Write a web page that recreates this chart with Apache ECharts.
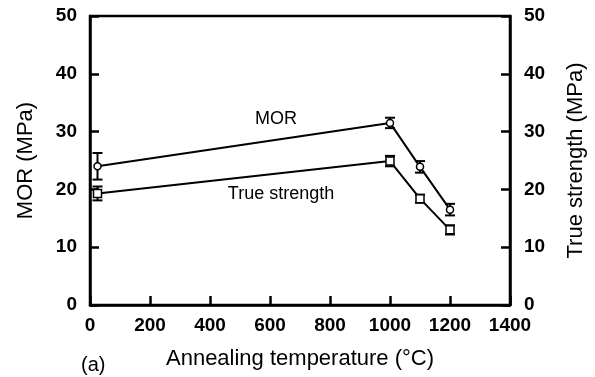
<!DOCTYPE html>
<html><head><meta charset="utf-8">
<script src="https://cdn.jsdelivr.net/npm/echarts@6/dist/echarts.min.js"></script>
<style>html,body{margin:0;padding:0;background:#fff}#c{width:595px;height:377px}</style>
</head><body><div id="c"></div>
<script>
const temps = [25, 1000, 1100, 1200];
const morValues = [24.0, 31.5, 23.9, 16.5];
const morErrors = [2.3, 0.9, 1.0, 1.0];
const trueValues = [19.3, 24.9, 18.4, 13.0];
const trueErrors = [1.2, 0.9, 0.7, 0.8];
const xTicks = [0, 200, 400, 600, 800, 1000, 1200, 1400];
const yTicks = [0, 10, 20, 30, 40, 50];

const FONT = 'Liberation Sans, Arial, sans-serif';
const chart = echarts.init(document.getElementById('c'));

function errSeries(vals, errs) {
  return {
    type: 'custom',
    data: temps.map((t, i) => [t, vals[i] - errs[i], vals[i] + errs[i]]),
    renderItem: function (params, api) {
      const lo = api.coord([api.value(0), api.value(1)]);
      const hi = api.coord([api.value(0), api.value(2)]);
      const w = 5;
      const st = {stroke: '#000', lineWidth: 2};
      return {type: 'group', children: [
        {type: 'line', shape: {x1: lo[0], y1: lo[1], x2: hi[0], y2: hi[1]}, style: st},
        {type: 'line', shape: {x1: lo[0]-w, y1: lo[1], x2: lo[0]+w, y2: lo[1]}, style: st},
        {type: 'line', shape: {x1: hi[0]-w, y1: hi[1], x2: hi[0]+w, y2: hi[1]}, style: st}
      ]};
    },
    z: 3
  };
}

const axisStyle = {lineStyle: {color: '#000', width: 2.5}};
const tickStyle = {inside: true, length: 9, lineStyle: {color: '#000', width: 2.5}};
const labelBase = {fontFamily: FONT, fontSize: 19, fontWeight: 'bold', color: '#000'};
const nameBase = {fontFamily: FONT, fontSize: 22, color: '#000'};
chart.setOption({
  animation: false,
  grid: {left: 90, right: 85, top: 16, bottom: 72, show: true, borderColor: '#000', borderWidth: 2.5},
  title: {text: '(a)', left: 76, top: 350, textStyle: {fontFamily: FONT, fontSize: 20, fontWeight: 'normal', color: '#000'}},
  xAxis: {
    type: 'value', min: 0, max: 1400, interval: 200,
    name: 'Annealing temperature (\u00B0C)', nameLocation: 'middle', nameGap: 43,
    nameTextStyle: nameBase,
    axisLine: axisStyle, axisTick: tickStyle,
    axisLabel: Object.assign({margin: 11, formatter: v => xTicks.includes(v) ? String(v) : ''}, labelBase),
    splitLine: {show: false}
  },
  yAxis: [{
    type: 'value', min: 0, max: 50, interval: 10, position: 'left',
    name: 'MOR (MPa)', nameLocation: 'middle', nameGap: 53, nameRotate: 90,
    nameTextStyle: nameBase,
    axisLine: axisStyle, axisTick: tickStyle,
    axisLabel: Object.assign({margin: 13, formatter: v => yTicks.includes(v) ? String(v) : ''}, labelBase),
    splitLine: {show: false}
  }, {
    type: 'value', min: 0, max: 50, interval: 10, position: 'right',
    name: 'True strength (MPa)', nameLocation: 'middle', nameGap: 55, nameRotate: 90,
    nameTextStyle: nameBase,
    axisLine: axisStyle, axisTick: tickStyle,
    axisLabel: Object.assign({margin: 14, formatter: v => yTicks.includes(v) ? String(v) : ''}, labelBase),
    splitLine: {show: false}
  }],
  series: [
    {type: 'line', name: 'MOR', data: temps.map((t, i) => [t, morValues[i]]),
      symbol: 'circle', symbolSize: 7, lineStyle: {color: '#000', width: 2},
      itemStyle: {color: '#fff', borderColor: '#000', borderWidth: 1.5}, z: 4},
    {type: 'line', name: 'True strength', data: temps.map((t, i) => [t, trueValues[i]]),
      symbol: 'rect', symbolSize: 8, lineStyle: {color: '#000', width: 2},
      itemStyle: {color: '#fff', borderColor: '#000', borderWidth: 1.5}, z: 4},
    errSeries(morValues, morErrors),
    errSeries(trueValues, trueErrors)
  ],
  graphic: [
    {type: 'text', x: 276, y: 119, style: {text: 'MOR', font: '18px ' + FONT, fill: '#000', align: 'center', verticalAlign: 'middle'}},
    {type: 'text', x: 281, y: 194, style: {text: 'True strength', font: '18px ' + FONT, fill: '#000', align: 'center', verticalAlign: 'middle'}}
  ]
});
</script></body></html>
